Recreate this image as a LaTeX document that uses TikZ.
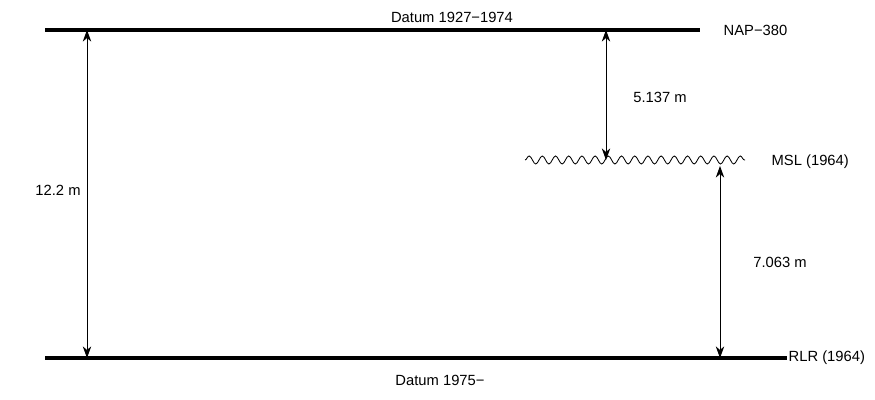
\documentclass[tikz,border=0pt]{standalone}
\usepackage{fontspec}
\setmainfont{Liberation Sans}
\usetikzlibrary{arrows.meta,positioning,decorations.pathmorphing}

\begin{document}
\begin{tikzpicture}[>={Stealth[length=2.9mm,width=2.1mm,inset=0.9mm]},every node/.style={font=\fontsize{10.5}{12}\selectfont,inner sep=1pt},
  datum/.style={line width=2.2pt},
  gap/.style={<->,line width=0.6pt}]
\useasboundingbox (0,0) rectangle (21.875,10);
% datum lines
\coordinate (napL) at (1.125,9.25);
\coordinate (napR) at (17.5,9.25);
\coordinate (rlrL) at (1.125,1.05);
\coordinate (rlrR) at (19.675,1.05);
\draw[datum] (napL) -- (napR);
\draw[datum] (rlrL) -- (rlrR);
\node[anchor=west] (nap) at (18.05,9.25) {NAP−380};
\node[anchor=west] (rlr) at (rlrR) {RLR (1964)};
\node (old) at (11.3,9.575) {Datum 1927−1974};
\node (new) at (11.0,0.5) {Datum 1975−};
% mean sea level
\coordinate (mslL) at (13.125,6.0);
\coordinate (mslR) at (18.625,6.0);
\draw[line width=0.6pt,decorate,decoration={snake,segment length=0.33cm,amplitude=0.1cm}] (mslL) -- (mslR);
\node[anchor=west] (msl) at (19.25,5.95) {MSL (1964)};
% distances
\draw[gap] (2.175,9.25) -- (2.175,1.05);
\node (total) at (1.45,5.25) {12.2 m};
\draw[gap] (15.15,9.25) -- (15.15,6.0);
\node (upper) at (16.5,7.575) {5.137 m};
\draw[gap] (18.0,5.85) -- (18.0,1.05);
\node (lower) at (19.5,3.45) {7.063 m};
\end{tikzpicture}
\end{document}
